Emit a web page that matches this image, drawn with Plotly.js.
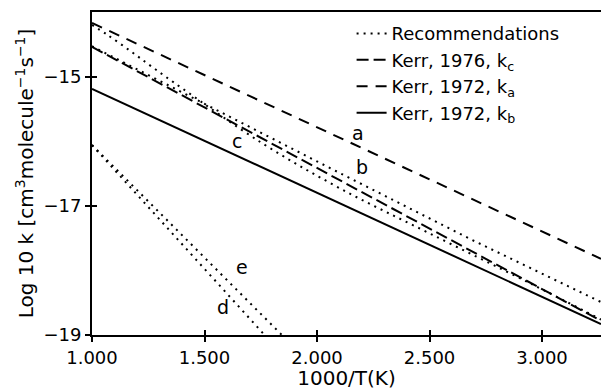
<!DOCTYPE html>
<html>
<head>
<meta charset="utf-8">
<script src="https://cdn.plot.ly/plotly-3.0.1.min.js"></script>
<style>html,body{margin:0;padding:0;background:#fff;}#chart{width:601px;height:390px;}</style>
</head>
<body>
<div id="chart"></div>
<script>
// Kerr lines
const xKa = [1.0, 3.262];
const yKa = [-14.17, -17.82];
const xKc = [1.0, 3.262];
const yKc = [-14.54, -18.78];
const xKb = [1.0, 3.262];
const yKb = [-15.19, -18.83];
// Recommendation curves (dotted)
const xRecB = [1.0, 2.06, 2.69, 3.262];
const yRecB = [-14.53, -16.42, -17.53, -18.49];
const xRecC = [1.0, 1.067, 1.169, 1.267, 1.4, 1.751, 2.102, 2.502, 2.947, 3.262];
const yRecC = [-14.2, -14.35, -14.6, -14.85, -15.18, -16.02, -16.73, -17.43, -18.20, -18.76];
const xRecD = [1.0, 1.767];
const yRecD = [-16.06, -19.0];
const xRecE = [1.0, 1.844];
const yRecE = [-16.06, -19.0];
// curve labels
const labelText = ['a', 'b', 'c', 'd', 'e'];
const labelX = [2.182, 2.2, 1.644, 1.582, 1.667];
const labelY = [-15.876, -16.40, -16.0, -18.56, -17.95];
// ticks
const xTicks = [1.0, 1.5, 2.0, 2.5, 3.0];
const yTicks = [-15, -17, -19];

const FONT = 'DejaVu Sans';
const dotStyle = {color: '#000', width: 2, dash: '2px,5px'};

const traces = [
  {x: xRecB, y: yRecB, mode: 'lines', name: 'Recommendations', line: dotStyle, legendgroup: 'rec'},
  {x: xRecC, y: yRecC, mode: 'lines', name: 'Recommendations', line: Object.assign({shape: 'spline'}, dotStyle), showlegend: false, legendgroup: 'rec'},
  {x: xRecD, y: yRecD, mode: 'lines', name: 'Recommendations', line: dotStyle, showlegend: false, legendgroup: 'rec'},
  {x: xRecE, y: yRecE, mode: 'lines', name: 'Recommendations', line: dotStyle, showlegend: false, legendgroup: 'rec'},
  {x: xKc, y: yKc, mode: 'lines', name: 'Kerr, 1976, k<sub>c</sub>', line: {color: '#000', width: 2, dash: '12px,5px'}},
  {x: xKa, y: yKa, mode: 'lines', name: 'Kerr, 1972, k<sub>a</sub>', line: {color: '#000', width: 2, dash: '11px,8px'}},
  {x: xKb, y: yKb, mode: 'lines', name: 'Kerr, 1972, k<sub>b</sub>', line: {color: '#000', width: 2}},
  {x: [], y: [], xaxis: 'x2', yaxis: 'y2', showlegend: false, hoverinfo: 'skip'}
];

const annotations = labelText.map((t, i) => ({
  x: labelX[i], y: labelY[i], xref: 'x', yref: 'y', text: t, showarrow: false,
  font: {family: FONT, size: 19, color: '#000'}
}));

const xRange = [1.0, 3.262];
const yRange = [-19, -14];

const layout = {
  width: 601, height: 390,
  margin: {l: 92, r: 0, t: 12, b: 55},
  paper_bgcolor: '#fff', plot_bgcolor: '#fff',
  font: {family: FONT, size: 18, color: '#000'},
  showlegend: true,
  legend: {x: 0.51, y: 0.99, xanchor: 'left', yanchor: 'top', bgcolor: 'rgba(0,0,0,0)',
           font: {family: FONT, size: 18, color: '#000'}, tracegroupgap: 0},
  xaxis: {
    range: xRange, tickvals: xTicks, tickformat: '.3f',
    showgrid: false, zeroline: false, showline: true, linecolor: '#000', linewidth: 2,
    mirror: true, ticks: 'outside', ticklen: 5, tickwidth: 2, tickcolor: '#000',
    title: {text: '1000/T(K)', font: {family: FONT, size: 20}, standoff: 0},
    tickfont: {family: FONT, size: 18}
  },
  yaxis: {
    range: yRange, tickvals: yTicks,
    showgrid: false, zeroline: false, showline: true, linecolor: '#000', linewidth: 2,
    ticks: 'outside', ticklen: 5, tickwidth: 2, tickcolor: '#000',
    title: {text: 'Log 10 k [cm<sup>3</sup>molecule<sup>−1</sup>s<sup>−1</sup>]', font: {family: FONT, size: 20}, standoff: 4},
    tickfont: {family: FONT, size: 18}
  },
  xaxis2: {overlaying: 'x', matches: 'x', range: xRange, tickvals: xTicks, showticklabels: false,
           ticks: 'inside', ticklen: 5, tickwidth: 2, tickcolor: '#000', showgrid: false, zeroline: false, showline: false},
  yaxis2: {overlaying: 'y', matches: 'y', range: yRange, tickvals: yTicks, showticklabels: false,
           ticks: 'inside', ticklen: 5, tickwidth: 2, tickcolor: '#000', showgrid: false, zeroline: false, showline: false},
  annotations: annotations
};

Plotly.newPlot('chart', traces, layout, {staticPlot: true, displayModeBar: false});
</script>
</body>
</html>
